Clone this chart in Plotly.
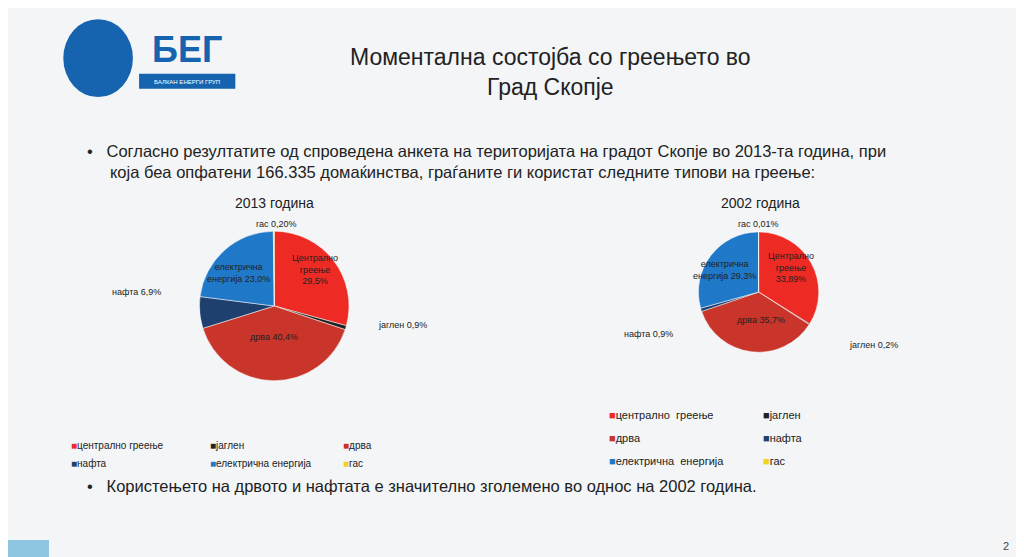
import plotly.graph_objects as go

categories = ['централно  греење', 'јаглен', 'дрва', 'нафта', 'електрична  енергија', 'гас']
values_2013 = [29.5, 0.9, 40.4, 6.9, 23.0, 0.2]
values_2002 = [33.89, 0.2, 35.7, 0.9, 29.3, 0.01]
colors = ['#EE2A24', '#222222', '#C9352A', '#1F3F6E', '#2078C8', '#F3D21C']

fig = go.Figure()
fig.add_trace(go.Pie(labels=categories, values=values_2013, sort=False, direction='clockwise',
                     marker={'colors': colors, 'line': {'color': 'white', 'width': 0.5}},
                     textinfo='none', hoverinfo='label+percent', showlegend=False,
                     domain={'x': [0.187, 0.333], 'y': [0.33, 0.60]}))
fig.add_trace(go.Pie(labels=categories, values=values_2002, sort=False, direction='clockwise',
                     marker={'colors': colors, 'line': {'color': 'white', 'width': 0.5}},
                     textinfo='none', hoverinfo='label+percent', showlegend=False,
                     domain={'x': [0.674, 0.792], 'y': [0.382, 0.598]}))

f = 'Liberation Sans'
ann = []


def txt(x, y, s, size=10, color='#222', align='center', xanchor='center'):
    ann.append(dict(x=x, y=y, xref='paper', yref='paper', text=s, showarrow=False, yanchor='middle',
                    font={'family': f, 'size': size, 'color': color}, align=align, xanchor=xanchor))


txt(0.53, 0.885, 'Моментална состојба со греењето во<br>Град Скопје', 23)
txt(0.075, 0.725, '•&nbsp;&nbsp;&nbsp;Согласно резултатите од спроведена анкета на територијата на градот Скопје во 2013-та година, при<br>'
    '&nbsp;&nbsp;&nbsp;&nbsp;&nbsp;која беа опфатени 166.335 домаќинства, граѓаните ги користат следните типови на греење:',
    16.5, align='left', xanchor='left')
txt(0.26, 0.65, '2013 година', 14)
txt(0.735, 0.65, '2002 година', 14)
# 2013 labels
txt(0.262, 0.612, 'гас 0,20%', 9)
txt(0.30, 0.53, 'Централно<br>греење<br>29,5%', 9)
txt(0.225, 0.525, 'електрична<br>енергија 23,0%', 9)
txt(0.125, 0.49, 'нафта 6,9%', 9)
txt(0.26, 0.41, 'дрва 40,4%', 9)
txt(0.385, 0.43, 'јаглен 0,9%', 9)
# 2002 labels
txt(0.733, 0.612, 'гас 0,01%', 9)
txt(0.765, 0.535, 'Централно<br>греење<br>33,89%', 9)
txt(0.70, 0.53, 'електрична<br>енергија 29,3%', 9)
txt(0.625, 0.415, 'нафта 0,9%', 9)
txt(0.735, 0.44, 'дрва 35,7%', 9)
txt(0.845, 0.395, 'јаглен 0,2%', 9)

# legends built from categories and colors
pos_l = [(0.06, 0.215), (0.195, 0.215), (0.325, 0.215), (0.06, 0.183), (0.195, 0.183), (0.325, 0.183)]
for (x, y), c, col in zip(pos_l, categories, colors):
    txt(x, y, '<span style="color:%s">■</span>%s' % (col, c.replace('  ', ' ')), 10, xanchor='left')
pos_r = [(0.585, 0.27), (0.735, 0.27), (0.585, 0.228), (0.735, 0.228), (0.585, 0.187), (0.735, 0.187)]
for (x, y), c, col in zip(pos_r, categories, colors):
    txt(x, y, '<span style="color:%s">■</span>%s' % (col, c), 11, xanchor='left')

txt(0.075, 0.142, '•&nbsp;&nbsp;&nbsp;Користењето на дрвото и нафтата е значително зголемено во однос на 2002 година.',
    16.5, align='left', xanchor='left')
txt(0.975, 0.035, '2', 11, '#444')
# logo
txt(0.175, 0.925, '<b>БЕГ</b>', 36, '#1663B0')
txt(0.175, 0.868, 'БАЛКАН ЕНЕРГИ ГРУП', 6, 'white')

fig.update_layout(
    width=1024, height=557, margin={'l': 0, 'r': 0, 't': 0, 'b': 0},
    paper_bgcolor='#F3F5F7', annotations=ann,
    shapes=[
        dict(type='circle', xref='paper', yref='paper', x0=0.054, x1=0.122, y0=0.84, y1=0.98,
             fillcolor='#1663B0', line={'width': 0}),
        dict(type='rect', xref='paper', yref='paper', x0=0.128, x1=0.222, y0=0.855, y1=0.882,
             fillcolor='#1663B0', line={'width': 0}),
        dict(type='rect', xref='paper', yref='paper', x0=0.0, x1=0.04, y0=0.0, y1=0.045,
             fillcolor='#8EC5E0', line={'width': 0}),
    ])
fig.write_html('out.html')
